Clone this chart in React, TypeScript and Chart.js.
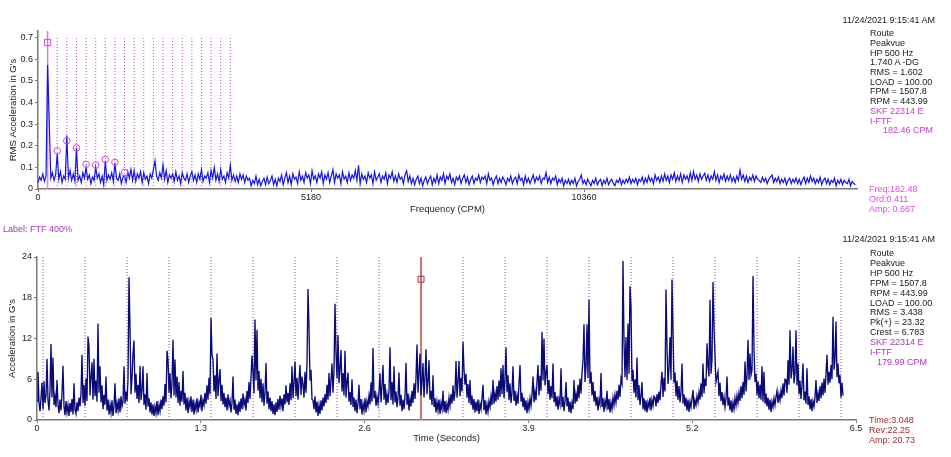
import React, { useEffect, useRef } from "react";
import { Chart, registerables } from "chart.js";

Chart.register(...registerables);

const FONT = "'Liberation Sans', Arial, Helvetica, sans-serif";

// ---------------- Spectrum (top) ----------------
const SPECTRUM_BIN_CPM = 30.41; // FFT bin width
const FREQ_MAX_CPM = 15540;
const FREQ_TICKS = [0, 5180, 10360];
const AMP_TICKS = [0, 0.1, 0.2, 0.3, 0.4, 0.5, 0.6, 0.7];
const AMP_MAX = 0.73;

const SPECTRUM_G = [
  0.03, 0.055, 0.04, 0.07, 0.035, 0.06,
  0.573, 0.31, 0.05, 0.075, 0.04, 0.065,
  0.164, 0.045, 0.08, 0.03, 0.06, 0.045,
  0.247, 0.05, 0.085, 0.04, 0.07, 0.035,
  0.19, 0.04, 0.06, 0.03, 0.075, 0.05,
  0.1, 0.045, 0.065, 0.025, 0.055, 0.04,
  0.1, 0.05, 0.07, 0.03, 0.06, 0.02,
  0.13, 0.04, 0.065, 0.045, 0.075, 0.035,
  0.12, 0.05, 0.04, 0.07, 0.025, 0.055,
  0.06, 0.03, 0.08, 0.05, 0.09, 0.04,
  0.085, 0.035, 0.07, 0.05, 0.08, 0.03,
  0.075, 0.045, 0.06, 0.025, 0.07, 0.05,
  0.09, 0.13, 0.06, 0.04, 0.075, 0.05,
  0.11, 0.045, 0.085, 0.03, 0.065, 0.05,
  0.07, 0.035, 0.08, 0.04, 0.06, 0.025,
  0.075, 0.05, 0.04, 0.07, 0.03, 0.06,
  0.08, 0.04, 0.065, 0.03, 0.07, 0.045,
  0.09, 0.035, 0.06, 0.05, 0.075, 0.03,
  0.085, 0.05, 0.1, 0.04, 0.07, 0.035,
  0.09, 0.045, 0.06, 0.03, 0.075, 0.05,
  0.11, 0.04, 0.065, 0.035, 0.06, 0.03,
  0.07, 0.045, 0.065, 0.03, 0.06, 0.04,
  0.05, 0.015, 0.04, 0.025, 0.06, 0.02, 0.045, 0.015, 0.035, 0.05, 0.02, 0.055, 0.025, 0.04, 0.06, 0.02, 0.045, 0.015, 0.05, 0.035,
  0.065, 0.02, 0.05, 0.075, 0.03, 0.06, 0.02, 0.07, 0.045, 0.055, 0.025, 0.08, 0.04, 0.06, 0.03, 0.075, 0.05, 0.065, 0.025, 0.085,
  0.045, 0.06, 0.03, 0.07, 0.05, 0.08, 0.025, 0.065, 0.045, 0.075, 0.03, 0.06, 0.09, 0.03, 0.07, 0.05, 0.065, 0.025, 0.08, 0.045,
  0.06, 0.03, 0.075, 0.04, 0.065, 0.05, 0.085, 0.04, 0.11, 0.025, 0.07, 0.045, 0.06, 0.03, 0.075, 0.05, 0.065, 0.025, 0.08, 0.04,
  0.055, 0.07, 0.03, 0.06, 0.045, 0.075, 0.025, 0.065, 0.05, 0.08, 0.035, 0.06, 0.03, 0.07, 0.045, 0.055, 0.025, 0.065, 0.084, 0.035,
  0.06, 0.025, 0.05, 0.02, 0.045, 0.06, 0.025, 0.05, 0.015, 0.04, 0.055, 0.025, 0.045, 0.06, 0.02, 0.05, 0.03, 0.065, 0.025, 0.055,
  0.04, 0.07, 0.025, 0.06, 0.045, 0.07, 0.03, 0.05, 0.02, 0.055, 0.04, 0.06, 0.025, 0.05, 0.065, 0.03, 0.055, 0.02, 0.045, 0.06,
  0.025, 0.05, 0.04, 0.065, 0.03, 0.055, 0.045, 0.06, 0.025, 0.07, 0.04, 0.05, 0.02, 0.045, 0.06, 0.025, 0.05, 0.03, 0.055, 0.04,
  0.02, 0.05, 0.035, 0.06, 0.025, 0.045, 0.055, 0.025, 0.065, 0.04, 0.05, 0.02, 0.06, 0.03, 0.05, 0.025, 0.045, 0.065, 0.03, 0.055,
  0.04, 0.06, 0.025, 0.05, 0.045, 0.076, 0.03, 0.055, 0.025, 0.05, 0.04, 0.06, 0.02, 0.045, 0.03, 0.05, 0.015, 0.04, 0.025, 0.045,
  0.02, 0.04, 0.025, 0.05, 0.015, 0.035, 0.045, 0.065, 0.025, 0.04, 0.02, 0.045, 0.03, 0.015, 0.04, 0.025, 0.05, 0.02, 0.035, 0.045,
  0.015, 0.04, 0.025, 0.05, 0.02, 0.035, 0.045, 0.025, 0.015, 0.04, 0.03, 0.05, 0.02, 0.04, 0.025, 0.045, 0.03, 0.055, 0.025, 0.045,
  0.03, 0.05, 0.02, 0.045, 0.035, 0.055, 0.025, 0.05, 0.03, 0.06, 0.035, 0.05, 0.025, 0.065, 0.04, 0.055, 0.03, 0.06, 0.035, 0.07,
  0.04, 0.06, 0.03, 0.065, 0.045, 0.075, 0.035, 0.06, 0.04, 0.07, 0.03, 0.065, 0.045, 0.06, 0.035, 0.075, 0.04, 0.08, 0.045, 0.065,
  0.035, 0.07, 0.045, 0.06, 0.072, 0.04, 0.065, 0.035, 0.06, 0.045, 0.08, 0.04, 0.065, 0.03, 0.06, 0.045, 0.07, 0.035, 0.06, 0.04,
  0.065, 0.035, 0.055, 0.03, 0.06, 0.04, 0.087, 0.045, 0.065, 0.035, 0.06, 0.03, 0.055, 0.04, 0.065, 0.035, 0.06, 0.045, 0.04, 0.03,
  0.055, 0.035, 0.05, 0.025, 0.045, 0.055, 0.065, 0.03, 0.05, 0.035, 0.055, 0.025, 0.045, 0.03, 0.05, 0.02, 0.04, 0.05, 0.025, 0.045,
  0.03, 0.05, 0.025, 0.045, 0.02, 0.04, 0.055, 0.025, 0.05, 0.03, 0.06, 0.035, 0.05, 0.025, 0.045, 0.03, 0.055, 0.02, 0.04, 0.05,
  0.025, 0.045, 0.02, 0.04, 0.03, 0.05, 0.015, 0.04, 0.025, 0.045, 0.02, 0.04, 0.03, 0.025, 0.045, 0.015, 0.035, 0.025, 0.02,
];

const FTF_CURSOR_CPM = 182.46;
const FTF_CURSOR_MARK_G = 0.677;
const FTF_HARMONICS_CPM = [
  364.92, 547.38, 729.84, 912.3, 1094.76, 1277.22, 1459.68, 1642.14, 1824.6, 2007.06,
  2189.52, 2371.98, 2554.44, 2736.9, 2919.36, 3101.82, 3284.28, 3466.74, 3649.2,
];
const HARMONIC_MARK_CPM = [364.92, 547.38, 729.84, 912.3, 1094.76, 1277.22, 1459.68, 1642.14];
const HARMONIC_MARK_G = [0.176, 0.223, 0.19, 0.114, 0.11, 0.136, 0.123, 0.076];

// ---------------- Time waveform (bottom) ----------------
const WAVE_DT_S = 0.0079365;
const TIME_MAX_S = 6.5;
const TIME_TICKS = [0, 1.3, 2.6, 3.9, 5.2, 6.5];
const G_TICKS = [0, 6, 12, 18, 24];
const G_MAX = 24;

const WAVE_G = [
  2.8,
  7.1, 2.6, 1.3, 3.2, 5.5, 1.6, 5.7, 2.5, 3.6, 9, 2.9, 1.4, 4.2, 11.2, 3.3, 9.2, 2.2, 3.5, 1.9, 5.9,
  2.3, 1.0, 3.0, 1.4, 3.8, 8, 2.0, 0.7, 2.8, 1.1, 2.2, 0.6, 2.5, 1.2, 3.1, 0.8, 5.4, 1.5, 0.9, 2.6,
  1.3, 3.3, 2.0, 3.9, 9.6, 2.5, 5.2, 2.1, 6.1, 2.8, 12.3, 10.8, 3.6, 6.3, 8.5, 3.0, 9, 3.5, 5.8, 2.7,
  14.2, 4.0, 7.9, 2.6, 5.1, 1.6, 3.7, 2.2, 6.4, 1.4, 3.0, 0.8, 2.3, 1.1, 2.9, 0.6, 2.1, 5.4, 1.0, 2.5,
  1.4, 3.2, 1.1, 3.5, 2.0, 2.7, 7.9, 2.4, 4.2, 2.8, 5.9, 21, 13.6, 3.8, 6.2, 9.8, 11.7, 4.0, 6.8, 3.1,
  5.2, 2.5, 8, 2.9, 4.3, 7.9, 2.2, 3.8, 1.5, 6.9, 2.0, 3.2, 1.1, 2.6, 0.8, 2.3, 0.6, 2.0, 1.0, 2.8,
  0.7, 2.2, 1.3, 3.0, 1.6, 3.5, 2.1, 5.3, 2.6, 10.2, 8.9, 4.0, 6.9, 3.2, 5.5, 11.8, 3.6, 8.9, 3.3, 6.4,
  2.5, 5.6, 2.1, 4.3, 2.7, 7.2, 2.3, 4.0, 1.4, 3.3, 1.0, 2.8, 1.9, 3.5, 1.2, 3.0, 0.8, 2.4, 1.5, 3.2,
  1.1, 2.6, 2.0, 3.7, 1.3, 2.9, 2.2, 4.0, 2.4, 5.1, 3.0, 6.2, 3.8, 15, 9.5, 8.9, 4.2, 6.6, 3.1, 9.8,
  3.5, 5.9, 7.5, 2.8, 5.2, 2.3, 4.0, 1.9, 3.3, 1.4, 3.8, 2.1, 2.9, 1.1, 2.5, 6.4, 1.5, 3.0, 0.9, 2.3,
  0.7, 2.7, 1.2, 3.2, 1.6, 3.9, 2.2, 3.0, 1.4, 4.3, 2.5, 5.6, 3.1, 6.3, 9.5, 6.9, 3.9, 14.8, 5.8, 13.3,
  4.3, 7.2, 3.2, 6.1, 2.6, 5.4, 2.1, 4.0, 8.4, 2.4, 4.2, 1.6, 3.3, 1.3, 2.8, 0.9, 2.3, 0.7, 2.6, 1.2,
  3.1, 1.5, 3.6, 2.0, 3.2, 1.3, 3.8, 2.3, 5.1, 2.6, 4.0, 2.2, 5.4, 2.9, 7.9, 3.2, 5.6, 8.6, 3.5, 6.2,
  3.0, 5.7, 8.1, 3.7, 6.4, 5.2, 3.3, 7.1, 4.0, 8.3, 19.3, 13.6, 5.8, 7.4, 3.0, 2.9, 1.6, 3.5, 1.1, 2.7,
  0.6, 2.2, 0.9, 2.9, 1.4, 3.3, 2.0, 3.8, 2.5, 5.2, 3.0, 6.9, 3.5, 5.8, 8.3, 4.0, 7.2, 17.1, 10, 6.1,
  12.5, 5.4, 7.6, 10.3, 4.2, 6.9, 3.6, 10.2, 3.3, 5.6, 7, 2.7, 4.1, 2.2, 6, 1.9, 3.3, 1.3, 3.0, 1.0,
  2.5, 5.2, 1.6, 3.1, 0.8, 2.4, 1.4, 3.2, 1.1, 2.8, 2.0, 3.6, 2.3, 5.5, 2.7, 10.6, 3.2, 4.3, 2.1, 3.5,
  2.4, 4.0, 6.9, 2.6, 5.0, 8.1, 3.0, 5.3, 2.2, 3.8, 2.5, 4.3, 10.7, 2.9, 5.6, 2.3, 7.9, 2.6, 4.2, 1.9,
  3.3, 7.0, 2.1, 3.7, 1.3, 3.0, 1.6, 3.4, 8.4, 2.2, 3.9, 1.4, 3.1, 2.0, 4.3, 2.5, 5.4, 3.1, 6.2, 11.1,
  4.0, 6.9, 9.8, 3.6, 5.8, 8.4, 3.3, 6.3, 10.4, 3.8, 5.7, 8.8, 3.0, 4.3, 2.2, 6.6, 1.9, 3.2, 1.1, 2.7,
  1.4, 3.0, 0.9, 2.5, 1.6, 4.3, 1.2, 2.8, 1.0, 2.4, 1.5, 3.3, 2.1, 3.8, 2.4, 5.1, 2.8, 4.1, 8.7, 3.3,
  5.6, 8.7, 3.5, 6.2, 4.2, 11.5, 7.4, 5.2, 6.8, 3.3, 5.3, 2.5, 5.9, 2.2, 3.6, 1.5, 3.1, 1.1, 2.7, 1.3,
  3.0, 0.9, 2.4, 1.6, 3.2, 5.2, 1.4, 2.9, 0.8, 2.3, 1.2, 2.8, 1.9, 3.5, 2.2, 5.9, 2.4, 3.9, 2.7, 5.0,
  3.0, 5.8, 3.4, 7.6, 3.8, 8.1, 3.2, 6.0, 10.7, 4.1, 6.6, 2.9, 5.4, 2.5, 4.0, 7.9, 2.8, 4.3, 2.1, 3.6,
  2.4, 5.3, 8.1, 2.7, 4.0, 1.9, 3.3, 1.4, 2.9, 1.0, 2.6, 1.6, 3.2, 2.1, 3.7, 6.4, 2.6, 4.2, 2.9, 5.6,
  8.1, 3.6, 6.5, 4.3, 13, 5.8, 12, 5.1, 6.9, 8.1, 3.8, 5.9, 3.0, 5.0, 3.2, 8.3, 2.6, 4.1, 2.0, 3.5,
  1.5, 3.1, 2.3, 7.6, 1.9, 3.4, 1.3, 2.8, 5.6, 2.0, 3.3, 1.2, 2.7, 1.0, 2.5, 1.6, 5.9, 2.4, 3.8, 2.7,
  5.2, 3.2, 6.1, 3.9, 6.9, 8.8, 14.1, 5.6, 7.8, 14.1, 6.2, 17.7, 5.4, 7.1, 3.6, 5.6, 2.7, 4.3, 2.1, 3.4,
  1.4, 3.0, 2.3, 6.9, 1.9, 3.2, 1.2, 2.8, 2.0, 4.3, 1.5, 3.1, 1.1, 2.6, 1.6, 3.3, 2.2, 3.7, 2.6, 4.3,
  3.0, 5.2, 3.4, 6.1, 5.4, 23.4, 11.5, 6.3, 12.2, 5.9, 14.2, 6.8, 19.7, 16.6, 5.7, 7.4, 4.0, 6.0, 3.3, 9.2,
  2.9, 5.1, 2.2, 3.6, 5.6, 1.6, 3.2, 1.3, 2.9, 1.1, 2.6, 1.9, 3.3, 1.4, 3.0, 2.1, 3.5, 3.3, 2.0, 3.8,
  2.5, 4.2, 2.9, 5.3, 7.1, 3.4, 6.2, 4.2, 19.2, 10.8, 5.3, 7.7, 12.2, 5.9, 20.7, 12.9, 5.5, 7.0, 3.5, 5.8,
  3.0, 5.0, 2.6, 4.0, 8.3, 2.4, 3.8, 2.0, 3.3, 1.4, 3.0, 1.2, 2.7, 1.9, 3.2, 4.4, 1.6, 2.9, 2.2, 3.5,
  2.6, 4.1, 3.0, 5.4, 3.4, 8.3, 3.9, 6.1, 5.0, 11.3, 7.9, 6.4, 17.7, 6.8, 8.8, 20.3, 13.7, 9.5, 5.6, 6.4,
  7.1, 3.5, 5.5, 2.8, 4.1, 2.2, 3.4, 1.9, 3.1, 6.4, 2.1, 3.3, 1.4, 2.9, 1.1, 2.6, 1.6, 3.2, 2.1, 3.6,
  2.5, 4.0, 2.8, 5.0, 3.2, 5.6, 3.7, 8.6, 4.2, 6.5, 11.8, 5.9, 9.8, 6.6, 7.3, 21.2, 10.3, 5.6, 6.8, 3.7,
  5.7, 3.2, 5.2, 3.0, 7.9, 2.7, 7.1, 2.4, 3.9, 2.0, 3.3, 1.5, 3.0, 1.2, 2.7, 1.9, 3.2, 2.2, 3.4, 4.3,
  2.5, 3.8, 2.9, 4.3, 3.2, 5.4, 3.6, 6.0, 5.9, 4.0, 8.8, 5.2, 13.2, 6.1, 7.3, 10.8, 5.4, 6.9, 13.2, 5.1,
  8.3, 3.8, 5.8, 3.1, 5.1, 8.3, 2.9, 4.2, 2.4, 7.6, 2.2, 3.5, 1.6, 3.1, 1.3, 2.8, 2.0, 3.3, 5.9, 2.5,
  3.9, 2.8, 5.0, 3.2, 5.5, 3.6, 6.1, 4.0, 6.8, 9.6, 5.2, 7.1, 5.5, 8.1, 6.0, 15.2, 7.4, 8.8, 14.5, 6.3,
  8.3, 5.4, 6.6, 3.3, 5.5, 3.6,
];

const TIME_CURSOR_S = 3.048;
const TIME_CURSOR_G = 20.73;
const FTF_MARKS_S = [
  0.048, 0.381, 0.715, 1.048, 1.381, 1.715, 2.048, 2.381, 2.715,
  3.381, 3.715, 4.048, 4.381, 4.715, 5.048, 5.381, 5.715, 6.048, 6.381,
];

// ---------------- Text panels ----------------
type Line = { text: string; color: string; indent?: number };
const BLACK = "#1a1a1a";
const MAG = "#c63cc6";
const PURPLE = "#a438b4";
const BRIGHT_MAG = "#e448e4";
const DARK_RED = "#a32c2c";

const TOP_INFO: Line[] = [
  { text: "Route", color: BLACK },
  { text: "Peakvue", color: BLACK },
  { text: "HP 500 Hz", color: BLACK },
  { text: "1.740 A -DG", color: BLACK },
  { text: "RMS = 1.602", color: BLACK },
  { text: "LOAD = 100.00", color: BLACK },
  { text: "FPM = 1507.8", color: BLACK },
  { text: "RPM = 443.99", color: BLACK },
  { text: "SKF 22314 E", color: MAG },
  { text: "I-FTF", color: MAG },
  { text: "182.46 CPM", color: MAG, indent: 13 },
];
const TOP_CURSOR: Line[] = [
  { text: "Freq:182.48", color: BRIGHT_MAG },
  { text: "Ord:0.411", color: BRIGHT_MAG },
  { text: "Amp: 0.667", color: BRIGHT_MAG },
];
const BOTTOM_INFO: Line[] = [
  { text: "Route", color: BLACK },
  { text: "Peakvue", color: BLACK },
  { text: "HP 500 Hz", color: BLACK },
  { text: "FPM = 1507.8", color: BLACK },
  { text: "RPM = 443.99", color: BLACK },
  { text: "LOAD = 100.00", color: BLACK },
  { text: "RMS = 3.438", color: BLACK },
  { text: "Pk(+) = 23.32", color: BLACK },
  { text: "Crest = 6.783", color: BLACK },
  { text: "SKF 22314 E", color: PURPLE },
  { text: "I-FTF", color: PURPLE },
  { text: "179.99 CPM", color: PURPLE, indent: 7 },
];
const BOTTOM_CURSOR: Line[] = [
  { text: "Time:3.048", color: DARK_RED },
  { text: "Rev:22.25", color: DARK_RED },
  { text: "Amp: 20.73", color: DARK_RED },
];
const DATE_TEXT = "11/24/2021 9:15:41 AM";
const LABEL_TEXT = "Label: FTF 400%";

function TextBlock(props: { lines: Line[]; left: number; firstCenter: number; lh: number }) {
  const { lines, left, firstCenter, lh } = props;
  return (
    <div
      style={{
        position: "absolute",
        left,
        top: firstCenter - lh / 2,
        fontFamily: FONT,
        fontSize: 9,
        lineHeight: `${lh}px`,
        whiteSpace: "pre",
      }}
    >
      {lines.map((l, i) => (
        <div key={i} style={{ color: l.color, paddingLeft: l.indent || 0, height: lh }}>
          {l.text}
        </div>
      ))}
    </div>
  );
}

function vlines(xs: number[], y0: number, y1: number) {
  const pts: any[] = [];
  xs.forEach((x) => {
    pts.push({ x, y: y0 }, { x, y: y1 }, { x, y: null });
  });
  return pts;
}

function axisCommon(tickVals: number[], fmt: (v: number) => string) {
  return {
    type: "linear" as const,
    afterBuildTicks: (s: any) => {
      s.ticks = tickVals.map((v) => ({ value: v }));
    },
    ticks: {
      autoSkip: false,
      maxRotation: 0,
      color: "#222",
      font: { family: FONT, size: 9 },
      callback: (v: any) => fmt(Number(v)),
    },
    grid: { drawOnChartArea: false, drawTicks: true, tickLength: 3, color: "#7a7a7a", lineWidth: 1 },
    border: { color: "#7a7a7a", width: 1.5 },
  };
}

export default function App() {
  const topRef = useRef<HTMLCanvasElement | null>(null);
  const botRef = useRef<HTMLCanvasElement | null>(null);

  useEffect(() => {
    const charts: Chart[] = [];
    if (topRef.current) {
      const spectrum = SPECTRUM_G.map((g, i) => ({ x: i * SPECTRUM_BIN_CPM, y: g }));
      const xAxis: any = axisCommon(FREQ_TICKS, (v) => String(v));
      xAxis.min = 0;
      xAxis.max = FREQ_MAX_CPM;
      xAxis.afterFit = (s: any) => { s.height = 31; };
      xAxis.ticks.padding = 0;
      xAxis.title = { display: true, text: "Frequency (CPM)", color: "#222", font: { family: FONT, size: 9.5 }, padding: { top: 0, bottom: 5 } };
      const yAxis: any = axisCommon(AMP_TICKS, (v) => (v === 0 ? "0" : v.toFixed(1)));
      yAxis.min = 0;
      yAxis.max = AMP_MAX;
      yAxis.afterFit = (s: any) => { s.width = 38; };
      yAxis.ticks.padding = 2;
      yAxis.title = { display: true, text: "RMS Acceleration in G's", color: "#222", font: { family: FONT, size: 9.5 }, padding: { top: 8, bottom: 0 } };

      charts.push(
        new Chart(topRef.current, {
          type: "line",
          data: {
            datasets: [
              {
                data: [{ x: FTF_CURSOR_CPM, y: FTF_CURSOR_MARK_G }],
                showLine: false,
                pointStyle: "rect",
                pointRadius: 4.4,
                borderColor: "#d446d4",
                backgroundColor: "rgba(0,0,0,0)",
                borderWidth: 1,
              },
              {
                data: HARMONIC_MARK_CPM.map((x, k) => ({ x, y: HARMONIC_MARK_G[k] })),
                showLine: false,
                pointStyle: "circle",
                pointRadius: 3.3,
                borderColor: "#d446d4",
                backgroundColor: "rgba(0,0,0,0)",
                borderWidth: 1,
              },
              {
                data: spectrum,
                borderColor: "#1414e6",
                borderWidth: 1.2,
                pointRadius: 0,
                tension: 0,
              },
              {
                data: vlines([FTF_CURSOR_CPM], 0, AMP_MAX),
                borderColor: "#e37ae3",
                borderWidth: 1.5,
                pointRadius: 0,
                spanGaps: false,
              },
              {
                data: vlines(FTF_HARMONICS_CPM, 0, 0.7),
                borderColor: "#c34cc3",
                borderWidth: 1,
                borderDash: [1, 2],
                pointRadius: 0,
                spanGaps: false,
              },
            ],
          } as any,
          options: {
            animation: false,
            responsive: true,
            maintainAspectRatio: false,
            events: [],
            layout: { padding: { left: 0, right: 94, top: 31, bottom: 0 } },
            plugins: { legend: { display: false }, tooltip: { enabled: false } },
            scales: { x: xAxis, y: yAxis },
          },
        })
      );
    }
    if (botRef.current) {
      const wave = WAVE_G.map((g, i) => ({ x: i * WAVE_DT_S, y: g }));
      const xAxis: any = axisCommon(TIME_TICKS, (v) => String(v));
      xAxis.min = 0;
      xAxis.max = TIME_MAX_S;
      xAxis.afterFit = (s: any) => { s.height = 37; };
      xAxis.ticks.padding = 0;
      xAxis.title = { display: true, text: "Time (Seconds)", color: "#222", font: { family: FONT, size: 9.5 }, padding: { top: 0, bottom: 13 } };
      const yAxis: any = axisCommon(G_TICKS, (v) => String(v));
      yAxis.min = 0;
      yAxis.max = G_MAX;
      yAxis.afterFit = (s: any) => { s.width = 37; };
      yAxis.ticks.padding = 2;
      yAxis.title = { display: true, text: "Acceleration in G's", color: "#222", font: { family: FONT, size: 9.5 }, padding: { top: 7, bottom: 0 } };

      charts.push(
        new Chart(botRef.current, {
          type: "line",
          data: {
            datasets: [
              {
                data: [{ x: TIME_CURSOR_S, y: TIME_CURSOR_G }],
                showLine: false,
                pointStyle: "rect",
                pointRadius: 4.2,
                borderColor: "#9a3030",
                backgroundColor: "rgba(0,0,0,0)",
                borderWidth: 1,
              },
              {
                data: wave,
                borderColor: "#0a0a78",
                borderWidth: 1.35,
                pointRadius: 0,
                tension: 0,
              },
              {
                data: vlines([TIME_CURSOR_S], 0, G_MAX),
                borderColor: "#cf7070",
                borderWidth: 2,
                pointRadius: 0,
                spanGaps: false,
              },
              {
                data: vlines(FTF_MARKS_S, 0, G_MAX),
                borderColor: "#a040a8",
                borderWidth: 1,
                borderDash: [1, 2],
                pointRadius: 0,
                spanGaps: false,
              },
            ],
          } as any,
          options: {
            animation: false,
            responsive: true,
            maintainAspectRatio: false,
            events: [],
            layout: { padding: { left: 0, right: 95, top: 27, bottom: 0 } },
            plugins: { legend: { display: false }, tooltip: { enabled: false } },
            scales: { x: xAxis, y: yAxis },
          },
        })
      );
    }
    return () => {
      charts.forEach((c) => c.destroy());
    };
  }, []);

  return (
    <div style={{ position: "absolute", left: 0, top: 0, width: 951, height: 457, background: "#fff", overflow: "hidden" }}>
      <div style={{ position: "absolute", left: 0, top: 0, width: 951, height: 220 }}>
        <canvas ref={topRef} />
      </div>
      <div style={{ position: "absolute", left: 0, top: 230, width: 951, height: 227 }}>
        <canvas ref={botRef} />
      </div>
      <div style={{ position: "absolute", right: 16, top: 14, fontFamily: FONT, fontSize: 9, lineHeight: "12px", color: BLACK, whiteSpace: "pre" }}>
        {DATE_TEXT}
      </div>
      <div style={{ position: "absolute", right: 16, top: 233, fontFamily: FONT, fontSize: 9, lineHeight: "12px", color: BLACK, whiteSpace: "pre" }}>
        {DATE_TEXT}
      </div>
      <div style={{ position: "absolute", left: 3, top: 223, fontFamily: FONT, fontSize: 9, lineHeight: "12px", color: PURPLE, whiteSpace: "pre" }}>
        {LABEL_TEXT}
      </div>
      <TextBlock lines={TOP_INFO} left={870} firstCenter={34} lh={9.73} />
      <TextBlock lines={TOP_CURSOR} left={869} firstCenter={189} lh={10} />
      <TextBlock lines={BOTTOM_INFO} left={870} firstCenter={254} lh={9.9} />
      <TextBlock lines={BOTTOM_CURSOR} left={869} firstCenter={420} lh={10} />
    </div>
  );
}
